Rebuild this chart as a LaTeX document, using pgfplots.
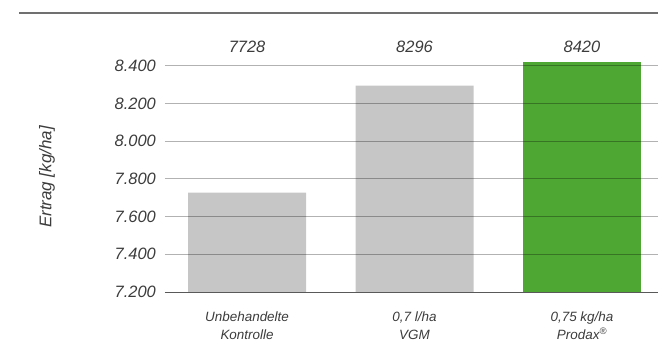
\documentclass[border=0pt]{standalone}
\usepackage{fontspec}
\setmainfont{Liberation Sans}
\usepackage{pgfplots}
\usepackage{pgfplotstable}
\pgfplotsset{compat=1.18}

\definecolor{txt}{HTML}{3C3C3C}
\definecolor{barGray}{HTML}{C6C6C6}
\definecolor{barGreen}{HTML}{4FA733}
\definecolor{rule}{HTML}{707070}

% Ertrag je Variante
\pgfplotstableread{
x  y
0  7728
1  8296
}\graydata
\pgfplotstableread{
x  y
2  8420
}\greendata
\pgfplotstableread{
x  y
0  7728
1  8296
2  8420
}\alldata

\begin{document}
\begin{tikzpicture}
\path[use as bounding box] (-165bp,-67bp) rectangle (493bp,292bp);
\begin{axis}[
  at={(0,0)}, anchor=south west,
  scale only axis,
  width=493bp, height=229.8bp,
  xmin=-0.49, xmax=2.454,
  ymin=7200, ymax=8420,
  clip=false,
  axis on top,
  axis x line*=bottom,
  axis y line*=left,
  x axis line style={draw=txt!85, line width=1bp},
  y axis line style={draw=none},
  major tick length=0pt,
  xtick={0,1,2},
  xticklabels={{Unbehandelte\\Kontrolle},{0,7 l/ha\\VGM},{0,75 kg/ha\\Prodax\textsuperscript{®}}},
  xticklabel style={align=center, font=\fontsize{13.5}{17.5}\selectfont\itshape, text=txt, inner sep=0pt, yshift=-20bp},
  ytick={7200,7400,...,8400},
  yticklabel style={font=\fontsize{16.5}{18}\selectfont\itshape, text=txt, inner sep=0pt, xshift=-9bp},
  /pgf/number format/.cd, assume math mode=true, 1000 sep={.}, fixed,
  /pgfplots/.cd,
  ymajorgrids,
  grid style={black, opacity=0.3, line width=1bp},
]
\addplot[ybar, bar width=118bp, bar shift=0pt, fill=barGray, draw=none] table[x=x, y=y] {\graydata};
\addplot[ybar, bar width=118bp, bar shift=0pt, fill=barGreen, draw=none] table[x=x, y=y] {\greendata};
% Werte über den Balken, in einer Zeile
\addplot[draw=none, mark=none, point meta=\thisrow{y},
  nodes near coords={\pgfmathprintnumber[1000 sep={}]{\pgfplotspointmeta}},
  every node near coord/.append style={anchor=base, inner sep=0pt, font=\fontsize{16.5}{18}\selectfont\itshape, text=txt}]
  table[x=x, y expr=8469] {\alldata};
% Achsentitel
\node[xshift=-118bp, rotate=90, anchor=center, inner sep=0pt, text=txt, font=\fontsize{17}{18}\selectfont\itshape]
  at (rel axis cs:0,0.5) {Ertrag [kg/ha]};
\end{axis}
\draw[rule, line width=2bp] (-146bp,279bp) -- (493bp,279bp);
\end{tikzpicture}
\end{document}
